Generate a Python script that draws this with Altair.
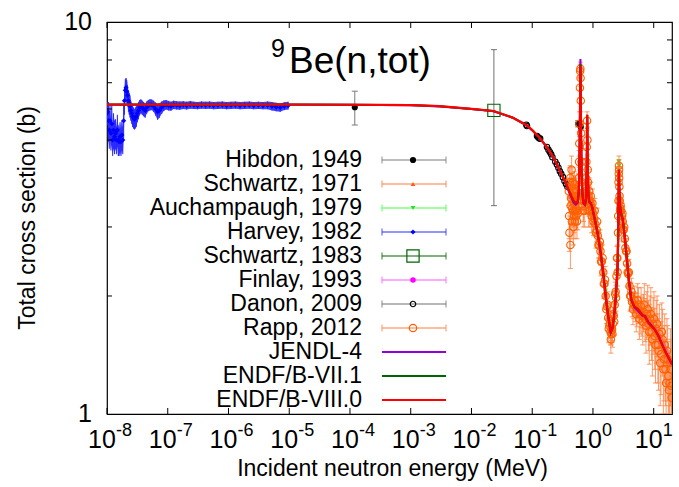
import altair as alt
import pandas as pd

W, H = 565, 392
FONT = "Liberation Sans"

# ---------------- evaluated data (E in MeV, sigma in b) ----------------
eval_E = [1e-8, 1e-7, 1e-6, 1e-5, 1e-4, 1e-3, 3e-3, 0.01, 0.023, 0.048, 0.08, 0.1, 0.13,
          0.16, 0.19, 0.22, 0.25, 0.28, 0.31, 0.34, 0.37, 0.40, 0.44, 0.48, 0.52, 0.56,
          0.585, 0.60, 0.61, 0.618, 0.622, 0.627, 0.635, 0.65, 0.67, 0.70, 0.74, 0.77,
          0.79, 0.80, 0.805, 0.81, 0.82, 0.84, 0.87, 0.92, 0.97, 1.0, 1.1, 1.2, 1.33,
          1.47, 1.62, 1.78, 1.96, 2.1, 2.23, 2.38, 2.54, 2.6, 2.64, 2.67, 2.70, 2.75,
          2.85, 2.95, 3.08, 3.3, 3.52, 3.9, 4.27, 4.8, 5.52, 6.5, 7.2, 8.13, 9.0, 10.5,
          12.0, 13.6, 16.0, 20.0]
endf80_s = [6.16, 6.16, 6.16, 6.16, 6.15, 6.14, 6.10, 6.00, 5.93, 5.70, 5.46, 5.30, 5.08,
            4.88, 4.70, 4.53, 4.36, 4.20, 4.06, 3.95, 3.83, 3.72, 3.60, 3.50, 3.45, 3.48,
            3.70, 4.40, 5.60, 7.20, 7.75, 7.00, 5.30, 4.10, 3.65, 3.45, 3.42, 3.55,
            4.20, 5.30, 5.80, 5.20, 4.20, 3.65, 3.48, 3.45, 3.38, 3.30, 3.08, 2.88, 2.60,
            2.30, 2.00, 1.78, 1.62, 1.66, 1.78, 2.00, 2.36, 2.80, 3.50, 4.20, 3.90, 3.50,
            3.30, 3.22, 3.15, 2.88, 2.60, 2.20, 1.96, 1.88, 1.85, 1.79, 1.77, 1.71, 1.68, 1.64,
            1.58, 1.51, 1.43, 1.34]
endf71_s = [6.16, 6.16, 6.16, 6.16, 6.15, 6.14, 6.10, 6.00, 5.93, 5.70, 5.46, 5.30, 5.08,
            4.88, 4.70, 4.53, 4.36, 4.20, 4.06, 3.95, 3.83, 3.72, 3.60, 3.50, 3.45, 3.48,
            3.70, 4.40, 5.60, 7.25, 7.80, 7.05, 5.30, 4.10, 3.65, 3.45, 3.42, 3.55,
            4.20, 5.30, 5.80, 5.20, 4.20, 3.65, 3.48, 3.45, 3.38, 3.30, 3.08, 2.88, 2.60,
            2.30, 2.00, 1.78, 1.62, 1.66, 1.78, 2.00, 2.36, 2.80, 3.50, 4.20, 3.90, 3.50,
            3.30, 3.22, 3.15, 2.88, 2.60, 2.20, 1.96, 1.88, 1.85, 1.79, 1.77, 1.71, 1.68, 1.64,
            1.58, 1.51, 1.43, 1.34]
jendl4_s = [6.15, 6.15, 6.15, 6.15, 6.15, 6.13, 6.09, 6.00, 5.92, 5.70, 5.45, 5.29, 5.07,
            4.87, 4.69, 4.52, 4.35, 4.19, 4.05, 3.94, 3.82, 3.70, 3.57, 3.46, 3.42, 3.46,
            3.70, 4.50, 5.90, 7.60, 8.05, 7.30, 5.40, 4.10, 3.63, 3.44, 3.41, 3.55,
            4.20, 5.20, 5.70, 5.10, 4.15, 3.63, 3.47, 3.44, 3.37, 3.29, 3.07, 2.87, 2.59,
            2.29, 1.99, 1.77, 1.61, 1.65, 1.77, 1.99, 2.35, 2.80, 3.45, 4.10, 3.85, 3.48,
            3.29, 3.21, 3.14, 2.87, 2.59, 2.19, 1.95, 1.87, 1.83, 1.78, 1.78, 1.72, 1.69, 1.64,
            1.58, 1.51, 1.43, 1.34]

# ---------------- experimental data: E (MeV), sigma (b), error (b) ----------------
hibdon_E = [1.2e-4, 0.57, 0.63]
hibdon_s = [6.06, 5.50, 5.40]
hibdon_e = [0.60, 0.10, 0.10]

sch71_E = [0.5, 0.55, 0.6, 0.62, 0.64, 0.68, 0.72, 0.76, 0.8, 0.85, 0.9, 1.0, 1.15, 1.3, 1.45,
           1.6, 1.75, 1.9, 2.05, 2.2, 2.35, 2.5, 2.62, 2.68, 2.78, 2.95, 3.2, 3.5, 3.8, 4.2,
           4.7, 5.3, 6.0, 7.0, 8.0, 9.5, 11.0, 13.0, 15.0]
sch71_s = [3.47, 3.46, 4.30, 7.30, 4.80, 3.60, 3.45, 3.50, 5.40, 3.55, 3.45, 3.30, 2.98, 2.65,
           2.33, 2.03, 1.80, 1.65, 1.63, 1.76, 1.97, 2.28, 3.20, 4.15, 3.45, 3.20, 3.00, 2.62,
           2.28, 1.98, 1.88, 1.85, 1.81, 1.77, 1.72, 1.67, 1.62, 1.53, 1.47]
sch71_e = [0.08, 0.08, 0.10, 0.15, 0.10, 0.08, 0.08, 0.08, 0.12, 0.08, 0.08, 0.07, 0.06, 0.06,
           0.05, 0.05, 0.04, 0.04, 0.04, 0.04, 0.05, 0.05, 0.07, 0.09, 0.07, 0.07, 0.06, 0.06,
           0.05, 0.05, 0.04, 0.04, 0.04, 0.04, 0.04, 0.04, 0.04, 0.04, 0.04]

auch_E = [1.0, 1.1, 1.2, 1.3, 1.4, 1.5, 1.6, 1.7, 1.8, 1.9, 2.0, 2.1, 2.2, 2.3, 2.4, 2.5, 2.56,
          2.6, 2.63, 2.65, 2.67, 2.69, 2.71, 2.74, 2.8, 2.9, 3.0, 3.2, 3.4, 3.6, 3.8, 4.0,
          4.3, 4.6, 5.0]
auch_s = [3.28, 3.10, 2.90, 2.66, 2.45, 2.26, 2.05, 1.88, 1.76, 1.66, 1.62, 1.67, 1.75, 1.88,
          2.04, 2.25, 2.50, 2.85, 3.40, 3.90, 4.40, 4.30, 3.90, 3.55, 3.35, 3.25, 3.18, 2.98,
          2.72, 2.50, 2.30, 2.12, 1.96, 1.90, 1.87]
auch_e = [0.05, 0.05, 0.05, 0.04, 0.04, 0.04, 0.04, 0.03, 0.03, 0.03, 0.03, 0.03, 0.03, 0.03,
          0.04, 0.04, 0.04, 0.05, 0.05, 0.06, 0.06, 0.06, 0.06, 0.05, 0.05, 0.05, 0.05, 0.05,
          0.04, 0.04, 0.04, 0.04, 0.03, 0.03, 0.03]

harvey_E = [1.00e-8, 1.03e-8, 1.06e-8, 1.09e-8, 1.12e-8, 1.16e-8, 1.20e-8, 1.24e-8, 1.28e-8,
            1.33e-8, 1.38e-8, 1.43e-8, 1.48e-8, 1.53e-8, 1.58e-8, 1.64e-8, 1.70e-8, 1.76e-8,
            1.82e-8, 1.88e-8, 1.94e-8, 2.00e-8, 2.06e-8, 2.12e-8, 2.18e-8, 2.25e-8, 2.32e-8,
            2.39e-8, 2.47e-8, 2.55e-8, 2.64e-8, 2.73e-8, 2.83e-8, 2.93e-8, 3.04e-8, 3.16e-8,
            3.30e-8, 3.45e-8, 3.62e-8, 3.80e-8, 4.00e-8, 4.25e-8, 4.50e-8, 4.78e-8, 5.10e-8,
            5.45e-8, 5.85e-8, 6.30e-8, 6.80e-8, 7.30e-8, 7.95e-8, 8.60e-8, 9.40e-8, 1.03e-7,
            1.13e-7, 1.25e-7, 1.40e-7, 1.58e-7, 1.80e-7, 2.05e-7, 2.35e-7, 2.70e-7, 3.10e-7,
            3.60e-7, 4.20e-7, 4.90e-7, 5.70e-7, 6.70e-7, 7.90e-7, 9.30e-7, 1.10e-6, 1.30e-6,
            1.55e-6, 1.85e-6, 2.20e-6, 2.60e-6, 3.10e-6, 3.70e-6, 4.40e-6, 5.20e-6, 6.10e-6,
            7.10e-6, 8.30e-6, 9.60e-6]
harvey_s = [5.85, 5.90, 5.60, 5.30, 5.60, 5.20, 5.50, 5.00, 5.30, 5.10, 5.20, 5.00, 5.30, 5.00,
            4.95, 5.10, 4.95, 5.15, 5.00, 5.60, 6.30, 6.70, 6.80, 6.65, 6.50, 6.30, 6.20, 6.10,
            5.95, 5.85, 5.75, 5.70, 5.65, 5.70, 5.75, 5.85, 5.95, 6.05, 6.10, 6.05, 6.00, 5.95,
            6.05, 6.12, 6.15, 6.15, 6.10, 6.00, 5.90, 5.95, 6.05, 6.12, 6.15, 6.12, 6.10, 6.15,
            6.13, 6.12, 6.14, 6.12, 6.15, 6.13, 6.12, 6.14, 6.13, 6.14, 6.12, 6.13, 6.14, 6.12,
            6.13, 6.14, 6.12, 6.13, 6.14, 6.12, 6.13, 6.12, 6.13, 6.10, 6.07, 6.05, 6.10, 6.12]
harvey_e = [0.40, 0.35, 0.65, 0.55, 0.55, 0.50, 0.65, 0.45, 0.55, 0.50, 0.45, 0.40, 0.50, 0.45,
            0.40, 0.45, 0.40, 0.45, 0.40, 0.55, 0.50, 0.45, 0.40, 0.45, 0.40, 0.40, 0.40, 0.40,
            0.35, 0.35, 0.35, 0.35, 0.33, 0.35, 0.35, 0.30, 0.30, 0.27, 0.25, 0.25, 0.25, 0.25,
            0.22, 0.20, 0.20, 0.19, 0.20, 0.23, 0.27, 0.25, 0.22, 0.19, 0.17, 0.17, 0.16, 0.15,
            0.15, 0.15, 0.14, 0.14, 0.14, 0.13, 0.13, 0.13, 0.13, 0.13, 0.13, 0.13, 0.13, 0.13,
            0.13, 0.13, 0.13, 0.13, 0.13, 0.13, 0.13, 0.13, 0.14, 0.15, 0.15, 0.15, 0.14, 0.14]

sch83_E = [0.0234]
sch83_s = [5.95]
sch83_e = [2.55]

finlay_E = [5.0, 5.5, 6.0, 6.5, 7.0, 7.5, 8.0, 8.5, 9.0, 9.5, 10.0, 10.5, 11.0, 11.5, 12.0,
            12.5, 13.0, 13.5, 14.0, 14.5, 15.0, 15.5, 16.0, 16.5, 17.0, 17.5, 18.0, 18.5,
            19.0, 19.5]
finlay_s = [1.87, 1.85, 1.82, 1.79, 1.77, 1.76, 1.73, 1.70, 1.69, 1.67, 1.65, 1.64, 1.62, 1.60,
            1.58, 1.56, 1.54, 1.52, 1.50, 1.49, 1.47, 1.45, 1.43, 1.41, 1.40, 1.38, 1.37, 1.36,
            1.35, 1.34]
finlay_e = [0.02] * 30

danon_E = [0.080, 0.082, 0.120, 0.125, 0.130, 0.135, 0.175, 0.185, 0.195, 0.205, 0.215, 0.240,
           0.255, 0.270, 0.285, 0.300, 0.320, 0.340, 0.360, 0.380]
danon_s = [5.47, 5.43, 5.12, 5.08, 5.05, 5.04, 4.80, 4.72, 4.66, 4.60, 4.52, 4.40, 4.33, 4.25,
           4.16, 4.10, 4.02, 3.93, 3.86, 3.80]
danon_e = [0.05] * 20

rapp_E = [0.40, 0.41, 0.42, 0.43, 0.44, 0.45, 0.46, 0.47, 0.48, 0.49, 0.50, 0.51, 0.52, 0.53,
          0.54, 0.55, 0.56, 0.57, 0.58, 0.59, 0.60, 0.61, 0.615, 0.62, 0.625, 0.63, 0.64, 0.65,
          0.66, 0.68, 0.70, 0.72, 0.74, 0.76, 0.78, 0.80, 0.81, 0.82, 0.84, 0.86, 0.88, 0.90,
          0.93, 0.96, 1.0, 1.05, 1.1, 1.15, 1.2, 1.27, 1.33, 1.4, 1.48, 1.55, 1.62, 1.7, 1.78,
          1.86, 1.94, 2.0, 2.06, 2.12, 2.2, 2.28, 2.36, 2.44, 2.52, 2.58, 2.63, 2.66, 2.69,
          2.72, 2.76, 2.82, 2.9, 3.0, 3.1, 3.2, 3.35, 3.5, 3.65, 3.8, 4.0, 4.2, 4.4, 4.7, 5.0,
          5.3, 5.6, 6.0, 6.4, 6.8, 7.2, 7.7, 8.2, 8.7, 9.2, 9.8, 10.4, 11.0, 11.7, 12.4, 13.2,
          14.0, 14.8, 15.6, 16.5, 17.4, 18.3, 19.2, 19.8,
          0.405, 0.415, 0.425, 0.435, 0.445, 0.455, 0.465, 0.475, 0.485, 0.495, 0.505, 0.515,
          0.525, 0.535, 0.545, 0.555, 0.565, 0.575, 0.585, 0.595,
          0.67, 0.69, 0.71, 0.73, 0.75, 0.77, 0.79, 0.83, 0.85, 0.87, 0.89, 0.92, 0.95, 0.98,
          1.02, 1.07, 1.12, 1.17, 1.23, 1.3, 1.36, 1.44, 1.51, 1.58, 1.66, 1.74, 1.82, 1.9,
          1.97, 2.03, 2.09, 2.16, 2.24, 2.32, 2.4, 2.48, 2.55, 2.6, 2.64, 2.68, 2.7, 2.74,
          2.79, 2.86, 2.95,
          3.05, 3.15, 3.27, 3.42, 3.57, 3.72, 3.9, 4.1, 4.3, 4.55, 4.85, 5.15, 5.45, 5.8, 6.2,
          6.6, 7.0, 7.45, 7.95, 8.45, 8.95, 9.5, 10.1, 10.7, 11.35, 12.0, 12.8, 13.6, 14.4,
          15.2, 16.0, 17.0, 17.9, 18.8, 19.5]
rapp_s = [3.70, 2.90, 4.00, 3.40, 3.80, 3.10, 3.60, 3.30, 3.70, 3.20, 3.50, 3.30, 3.60, 3.20,
          3.50, 3.30, 3.60, 3.40, 3.80, 4.40, 5.50, 6.80, 7.50, 7.60, 7.20, 6.30, 5.20, 4.40,
          3.90, 3.60, 3.40, 3.50, 3.60, 3.80, 4.40, 5.60, 5.00, 4.20, 3.60, 3.50, 3.50, 3.45,
          3.40, 3.30, 3.25, 3.15, 3.05, 2.95, 2.85, 2.70, 2.60, 2.45, 2.30, 2.15, 2.00, 1.88,
          1.76, 1.68, 1.62, 1.60, 1.64, 1.70, 1.78, 1.90, 2.05, 2.25, 2.50, 2.90, 3.50, 4.10,
          4.20, 3.80, 3.50, 3.35, 3.30, 3.20, 3.10, 2.95, 2.80, 2.60, 2.42, 2.28, 2.12, 2.00,
          1.93, 1.90, 1.88, 1.85, 1.90, 1.80, 1.78, 1.82, 1.75, 1.80, 1.70, 1.75, 1.62, 1.70,
          1.58, 1.65, 1.50, 1.60, 1.42, 1.55, 1.38, 1.30, 1.45, 1.25, 1.20, 1.30, 1.10,
          3.20, 3.90, 2.70, 3.55, 4.20, 3.35, 3.90, 3.00, 3.45, 3.85, 3.10, 3.75, 3.35, 3.70,
          3.10, 3.50, 3.25, 3.60, 4.00, 4.90,
          3.80, 3.30, 3.60, 3.30, 3.70, 4.00, 4.80, 3.90, 3.30, 3.70, 3.30, 3.60, 3.20, 3.45,
          3.10, 3.30, 2.90, 3.10, 2.70, 2.75, 2.45, 2.50, 2.15, 2.20, 1.85, 1.90, 1.65, 1.70,
          1.55, 1.66, 1.60, 1.80, 1.72, 2.02, 1.98, 2.50, 2.30, 3.20, 3.90, 4.30, 4.00, 3.60,
          3.30, 3.40, 3.10,
          3.25, 2.95, 3.00, 2.65, 2.60, 2.30, 2.30, 2.00, 2.05, 1.85, 1.95, 1.80, 1.95, 1.75,
          1.88, 1.72, 1.90, 1.68, 1.85, 1.62, 1.80, 1.55, 1.75, 1.50, 1.70, 1.45, 1.35, 1.62,
          1.30, 1.50, 1.20, 1.38, 1.15, 1.35, 1.18]
rapp_e = [0.30, 0.30, 0.30, 0.35, 0.30, 0.30, 0.35, 0.30, 0.30, 0.30, 0.30, 0.30, 0.30, 0.25,
          0.30, 0.25, 0.30, 0.25, 0.30, 0.30, 0.40, 0.40, 0.30, 0.30, 0.35, 0.40, 0.40, 0.35,
          0.30, 0.30, 0.30, 0.25, 0.30, 0.30, 0.35, 0.30, 0.40, 0.35, 0.30, 0.30, 0.25, 0.30,
          0.25, 0.25, 0.25, 0.20, 0.20, 0.20, 0.20, 0.20, 0.20, 0.18, 0.17, 0.16, 0.15, 0.14,
          0.13, 0.12, 0.12, 0.10, 0.12, 0.12, 0.13, 0.14, 0.15, 0.16, 0.18, 0.20, 0.25, 0.25,
          0.25, 0.25, 0.25, 0.22, 0.22, 0.20, 0.20, 0.20, 0.20, 0.20, 0.18, 0.18, 0.17, 0.16,
          0.16, 0.15, 0.16, 0.18, 0.20, 0.20, 0.20, 0.20, 0.22, 0.25, 0.25, 0.25, 0.25, 0.28,
          0.28, 0.30, 0.30, 0.30, 0.30, 0.30, 0.30, 0.25, 0.30, 0.28, 0.25, 0.25, 0.15,
          0.40, 0.35, 0.35, 0.30, 0.35, 0.30, 0.35, 0.30, 0.30, 0.30, 0.30, 0.30, 0.30, 0.30,
          0.30, 0.30, 0.30, 0.30, 0.30, 0.35,
          0.30, 0.30, 0.30, 0.30, 0.30, 0.30, 0.35, 0.30, 0.30, 0.30, 0.30, 0.30, 0.30, 0.30,
          0.25, 0.25, 0.25, 0.25, 0.20, 0.20, 0.20, 0.20, 0.18, 0.18, 0.15, 0.15, 0.13, 0.13,
          0.12, 0.12, 0.12, 0.13, 0.13, 0.15, 0.15, 0.18, 0.18, 0.25, 0.25, 0.25, 0.25, 0.25,
          0.22, 0.22, 0.20,
          0.20, 0.20, 0.20, 0.20, 0.20, 0.18, 0.18, 0.17, 0.17, 0.16, 0.17, 0.18, 0.20, 0.20,
          0.22, 0.22, 0.25, 0.25, 0.28, 0.28, 0.30, 0.30, 0.30, 0.30, 0.30, 0.30, 0.30, 0.30,
          0.30, 0.30, 0.28, 0.30, 0.25, 0.30, 0.20]

# ---------------- axes / legend text ----------------
x_tick_vals = [1e-8, 1e-7, 1e-6, 1e-5, 1e-4, 1e-3, 1e-2, 1e-1, 1e0, 1e1]
x_tick_exps = ["-8", "-7", "-6", "-5", "-4", "-3", "-2", "-1", "0", "1"]
y_major_vals = [1, 10]
y_major_labels = ["1", "10"]
y_minor_vals = [2, 3, 4, 5, 6, 7, 8, 9]
legend_labels = ["Hibdon, 1949", "Schwartz, 1971", "Auchampaugh, 1979", "Harvey, 1982",
                 "Schwartz, 1983", "Finlay, 1993", "Danon, 2009", "Rapp, 2012",
                 "JENDL-4", "ENDF/B-VII.1", "ENDF/B-VIII.0"]

# ---------------- styles ----------------
STY = {
    "hib": dict(m="#000000", b="#7a7a7a", shape="circle", filled=True, size=38),
    "s71": dict(m="#ff5a10", b="#ff7a40", shape="triangle-up", filled=True, size=22),
    "auc": dict(m="#22e022", b="#44ff44", shape="triangle-down", filled=True, size=22),
    "har": dict(m="#0000ff", b="#2a2aff", shape="diamond", filled=True, size=26),
    "s83": dict(m="#006400", b="#707070", shape="square", filled=False, size=150),
    "fin": dict(m="#ff00ff", b="#ff55ff", shape="circle", filled=True, size=30),
    "dan": dict(m="#000000", b="#707070", shape="circle", filled=False, size=30),
    "rap": dict(m="#ff6000", b="#ff8040", shape="circle", filled=False, size=55),
}
EVAL_COL = {"jendl": "#9400d3", "e71": "#006400", "e80": "#ff0000"}

xs = alt.Scale(type="log", domain=[1e-8, 20], nice=False)
ys = alt.Scale(type="log", domain=[1, 10], nice=False)
X = alt.X("E:Q", scale=xs, axis=None)


def Yq(f):
    return alt.Y(f"{f}:Q", scale=ys, axis=None)


def exp_layers(E, s, e, st, cap=6, bar_op=1.0, area=False):
    df = pd.DataFrame({"E": E, "s": s, "e": e})
    base = alt.Chart(df).transform_calculate(lo="datum.s - datum.e", hi="datum.s + datum.e")
    out = []
    if area:
        out.append(base.mark_area(color=st["b"], opacity=0.9, clip=True).encode(
            x=X, y=Yq("lo"), y2="hi:Q"))
    out.append(base.mark_rule(color=st["b"], strokeWidth=1, opacity=bar_op, clip=True).encode(
        x=X, y=Yq("lo"), y2="hi:Q"))
    if cap:
        for f in ("lo", "hi"):
            out.append(base.mark_tick(orient="horizontal", size=cap, thickness=1, color=st["b"],
                                      opacity=bar_op, clip=True).encode(x=X, y=Yq(f)))
    out.append(base.mark_point(shape=st["shape"], filled=st["filled"], size=st["size"],
                               color=st["m"], opacity=1, strokeWidth=1.1, clip=True).encode(
        x=X, y=Yq("s")))
    return out


def eval_layer(vals, color, w):
    df = pd.DataFrame({"E": eval_E, "s": vals})
    return alt.Chart(df).mark_line(color=color, strokeWidth=w, clip=True).encode(x=X, y=Yq("s"))


data_layers = []
data_layers += exp_layers(hibdon_E, hibdon_s, hibdon_e, STY["hib"])
data_layers += exp_layers(sch71_E, sch71_s, sch71_e, STY["s71"], cap=4)
data_layers += exp_layers(auch_E, auch_s, auch_e, STY["auc"], cap=4)
data_layers += exp_layers(harvey_E, harvey_s, harvey_e, STY["har"], cap=0, area=True)
data_layers += exp_layers(sch83_E, sch83_s, sch83_e, STY["s83"])
data_layers += exp_layers(finlay_E, finlay_s, finlay_e, STY["fin"], cap=0)
data_layers += exp_layers(danon_E, danon_s, danon_e, STY["dan"], cap=0)
data_layers += exp_layers(rapp_E, rapp_s, rapp_e, STY["rap"], cap=5, bar_op=0.8)
data_layers.append(eval_layer(jendl4_s, EVAL_COL["jendl"], 2))
data_layers.append(eval_layer(endf71_s, EVAL_COL["e71"], 2))
data_layers.append(eval_layer(endf80_s, EVAL_COL["e80"], 2.2))

# ---------------- ticks & labels ----------------
xt = alt.Chart(pd.DataFrame({"E": x_tick_vals, "lab": x_tick_exps}))
tick_layers = [
    xt.mark_rule(color="black").encode(x=X, y=alt.value(H), y2=alt.value(H - 6)),
    xt.mark_rule(color="black").encode(x=X, y=alt.value(0), y2=alt.value(6)),
    xt.mark_text(text="10", font=FONT, fontSize=25, align="center", baseline="alphabetic",
                 dx=-5).encode(x=X, y=alt.value(H + 34)),
    xt.mark_text(font=FONT, fontSize=18, align="left", baseline="alphabetic",
                 dx=9).encode(x=X, y=alt.value(H + 22), text="lab:N"),
]
ymin = alt.Chart(pd.DataFrame({"s": y_minor_vals}))
ymaj = alt.Chart(pd.DataFrame({"s": y_major_vals, "lab": y_major_labels}))
tick_layers += [
    ymin.mark_rule(color="black").encode(y=Yq("s"), x=alt.value(0), x2=alt.value(5)),
    ymin.mark_rule(color="black").encode(y=Yq("s"), x=alt.value(W), x2=alt.value(W - 5)),
    ymaj.mark_text(font=FONT, fontSize=25, align="right", baseline="middle").encode(
        y=Yq("s"), x=alt.value(-15), text="lab:N"),
]

txt = alt.Chart(pd.DataFrame({"t": ["Incident neutron energy (MeV)", "Total cross section (b)",
                                    "9", "Be(n,tot)"]}))
text_layers = [
    txt.transform_filter("datum.t == 'Incident neutron energy (MeV)'").mark_text(
        font=FONT, fontSize=23, align="center", baseline="alphabetic").encode(
        x=alt.value(W / 2 + 3), y=alt.value(H + 62), text="t:N"),
    txt.transform_filter("datum.t == 'Total cross section (b)'").mark_text(
        font=FONT, fontSize=23, align="center", baseline="middle", angle=270).encode(
        x=alt.value(-79), y=alt.value(H / 2), text="t:N"),
    txt.transform_filter("datum.t == '9'").mark_text(
        font=FONT, fontSize=25, align="left", baseline="alphabetic").encode(
        x=alt.value(164), y=alt.value(35), text="t:N"),
    txt.transform_filter("datum.t == 'Be(n,tot)'").mark_text(
        font=FONT, fontSize=37, align="left", baseline="alphabetic").encode(
        x=alt.value(182), y=alt.value(51), text="t:N"),
]

main = alt.layer(*data_layers, *tick_layers, *text_layers)

# ---------------- legend ----------------
keys = ["hib", "s71", "auc", "har", "s83", "fin", "dan", "rap"]
leg_rows = []
for i, lab in enumerate(legend_labels):
    if i < 8:
        st = STY[keys[i]]
        bcol = st["b"] if keys[i] != "s83" else "#006400"
        leg_rows.append(dict(label=lab, row=i, kind="exp", mcol=st["m"], bcol=bcol,
                             shape=st["shape"], filled=st["filled"], sz=st["size"]))
    else:
        col = [EVAL_COL["jendl"], EVAL_COL["e71"], EVAL_COL["e80"]][i - 8]
        leg_rows.append(dict(label=lab, row=i, kind="eval", mcol=col, bcol=col,
                             shape="circle", filled=True, sz=0))
leg = alt.Chart(pd.DataFrame(leg_rows))
LY = alt.Y("row:Q", scale=alt.Scale(domain=[0, 10], range=[138, 378]), axis=None)
LX0, LX1, LXM = 275, 339, 306
legend_layers = [
    leg.mark_text(font=FONT, fontSize=23, align="right", baseline="middle").encode(
        x=alt.value(255), y=LY, text="label:N"),
    leg.transform_filter("datum.kind == 'exp'").mark_rule(strokeWidth=1.2).encode(
        x=alt.value(LX0), x2=alt.value(LX1), y=LY, color=alt.Color("bcol:N", scale=None)),
    leg.transform_filter("datum.kind == 'exp'").mark_tick(orient="vertical", size=7,
                                                          thickness=1.2).encode(
        x=alt.value(LX0), y=LY, color=alt.Color("bcol:N", scale=None)),
    leg.transform_filter("datum.kind == 'exp'").mark_tick(orient="vertical", size=7,
                                                          thickness=1.2).encode(
        x=alt.value(LX1), y=LY, color=alt.Color("bcol:N", scale=None)),
    leg.transform_filter("datum.kind == 'exp' && datum.filled").mark_point(
        filled=True, opacity=1).encode(
        x=alt.value(LXM), y=LY, color=alt.Color("mcol:N", scale=None),
        shape=alt.Shape("shape:N", scale=None), size=alt.Size("sz:Q", scale=None)),
    leg.transform_filter("datum.kind == 'exp' && !datum.filled").mark_point(
        filled=False, opacity=1, strokeWidth=1.2).encode(
        x=alt.value(LXM), y=LY, color=alt.Color("mcol:N", scale=None),
        shape=alt.Shape("shape:N", scale=None), size=alt.Size("sz:Q", scale=None)),
    leg.transform_filter("datum.kind == 'eval'").mark_rule(strokeWidth=2).encode(
        x=alt.value(LX0), x2=alt.value(LX1), y=LY, color=alt.Color("bcol:N", scale=None)),
]
legend = alt.layer(*legend_layers)

chart = alt.layer(main, legend).resolve_scale(y="independent").properties(
    width=W, height=H,
    autosize=alt.AutoSizeParams(type="none"),
    padding={"left": 107, "top": 22, "right": 7, "bottom": 73},
    background="white",
).configure_view(stroke="black", strokeWidth=1.2)

chart.save("out.html", embed_options={"renderer": "svg", "actions": False})
